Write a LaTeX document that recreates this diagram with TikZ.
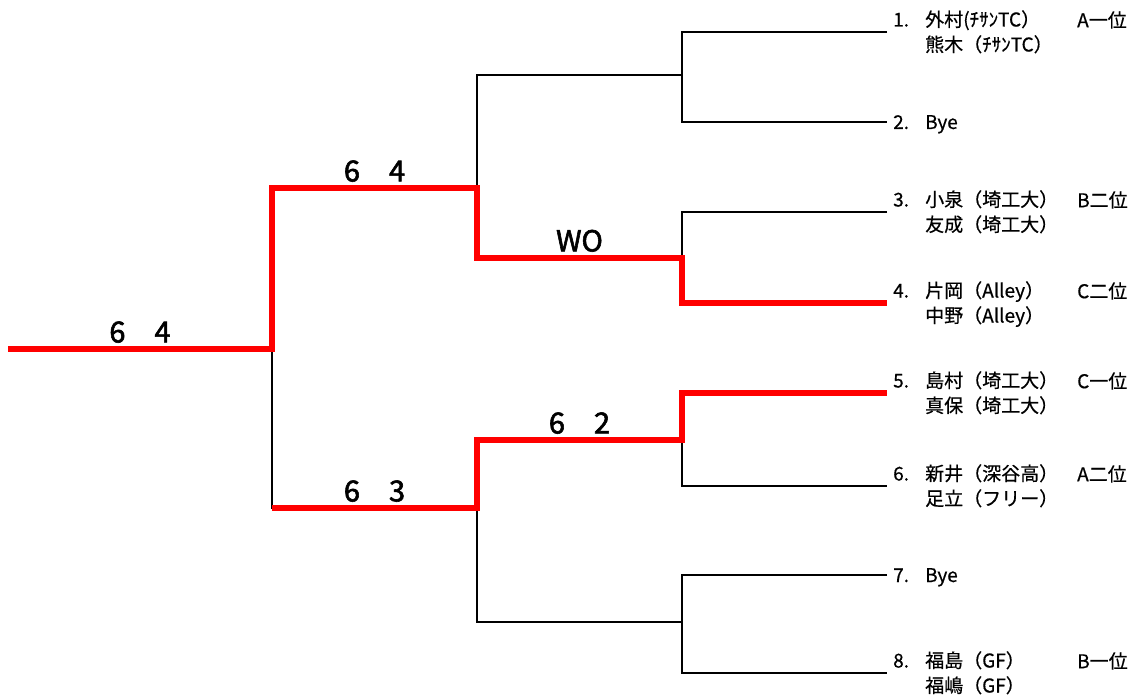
\documentclass[tikz,border=0pt]{standalone}
\usepackage{fontspec}
\setmainfont{Noto Sans CJK JP}[FakeBold=0.5]
\newfontfamily\scorefont{Noto Sans CJK JP}[FakeBold=2]
\usepackage{tikz}
\usetikzlibrary{positioning, calc}

\begin{document}
\begin{tikzpicture}[
    x=1pt, y=-1pt,
    % bracket lines
    wire/.style={draw, line width=1.3pt},
    win/.style={draw, red, line width=6pt, line join=miter},
    entry/.style={
        anchor=west,
        inner sep=0pt,
        xshift=6pt,
        yshift=-2pt,
        font=\fontsize{19}{25}\selectfont
    },
    rank/.style={anchor=west, inner sep=0pt, font=\fontsize{19}{25}\selectfont},
    score/.style={above=6pt, inner sep=0pt, font=\scorefont\fontsize{29}{32}\selectfont}
]
    \useasboundingbox (0,0) rectangle (1142,698);

    % leaf ends
    \coordinate (e1) at (887,32);
    \coordinate (e2) at (887,122);
    \coordinate (e3) at (887,212);
    \coordinate (e4) at (887,303);
    \coordinate (e5) at (887,393);
    \coordinate (e6) at (887,486);
    \coordinate (e7) at (887,575);
    \coordinate (e8) at (887,673);
    % first round joints
    \coordinate (q1) at (682,75);
    \coordinate (q2) at (682,258);
    \coordinate (q3) at (682,440);
    \coordinate (q4) at (682,622);
    \coordinate (w1) at (477,75);
    \coordinate (w2) at (477,258);
    \coordinate (w3) at (477,440);
    \coordinate (w4) at (477,622);
    % semi final joints
    \coordinate (t1) at (477,188);
    \coordinate (t2) at (477,508);
    \coordinate (s1) at (272,188);
    \coordinate (s2) at (272,508);
    % final
    \coordinate (f) at (272,349);
    \coordinate (start) at (8,349);

    % Players
    \node [entry] (p1) at (e1) {\begin{tabular}{@{}p{32pt}@{}l@{}}1. & 外村(ﾁｻﾝTC）\\ & 熊木（ﾁｻﾝTC）\end{tabular}};
    \node [entry] (p2) at (e2) {\begin{tabular}{@{}p{32pt}@{}l@{}}2. & Bye\end{tabular}};
    \node [entry] (p3) at (e3) {\begin{tabular}{@{}p{32pt}@{}l@{}}3. & 小泉（埼工大）\\ & 友成（埼工大）\end{tabular}};
    \node [entry] (p4) at (e4) {\begin{tabular}{@{}p{32pt}@{}l@{}}4. & 片岡（Alley）\\ & 中野（Alley）\end{tabular}};
    \node [entry] (p5) at (e5) {\begin{tabular}{@{}p{32pt}@{}l@{}}5. & 島村（埼工大）\\ & 真保（埼工大）\end{tabular}};
    \node [entry] (p6) at (e6) {\begin{tabular}{@{}p{32pt}@{}l@{}}6. & 新井（深谷高）\\ & 足立（フリー）\end{tabular}};
    \node [entry] (p7) at (e7) {\begin{tabular}{@{}p{32pt}@{}l@{}}7. & Bye\end{tabular}};
    \node [entry] (p8) at (e8) {\begin{tabular}{@{}p{32pt}@{}l@{}}8. & 福島（GF）\\ & 福嶋（GF）\end{tabular}};

    % Ranks
    \node [rank] (r1) at ($(e1)+(190,-12)$) {A一位};
    \node [rank] (r3) at ($(e3)+(190,-12)$) {B二位};
    \node [rank] (r4) at ($(e4)+(190,-12)$) {C二位};
    \node [rank] (r5) at ($(e5)+(190,-12)$) {C一位};
    \node [rank] (r6) at ($(e6)+(190,-12)$) {A二位};
    \node [rank] (r8) at ($(e8)+(190,-12)$) {B一位};

    % Bracket
    \draw [wire] (e1) -| (q1) |- (e2);
    \draw [wire] (e3) -| (q2) |- (e4);
    \draw [wire] (e5) -| (q3) |- (e6);
    \draw [wire] (e7) -| (q4) |- (e8);
    \draw [wire] (q1) -- (w1) -- (w2) -- (q2);
    \draw [wire] (q3) -- (w3) -- (w4) -- (q4);
    \draw [wire] (t1) -- (s1) -- (s2) -- (t2);
    \draw [wire] (start) -- (f);

    % Winners
    \draw [win] (start) -- (f) |- (t1) |- (q2) |- (e4);
    \draw [win] (s2) -- (t2) |- (q3) |- (e5);

    % Scores
    \node [score] (sc0) at ($(start)!0.5!(f)$) {6\quad 4};
    \node [score] (sc1) at ($(s1)!0.5!(t1)$) {6\quad 4};
    \node [score] (sc2) at ($(w2)!0.5!(q2)$) {WO};
    \node [score] (sc3) at ($(w3)!0.5!(q3)$) {6\quad 2};
    \node [score] (sc4) at ($(s2)!0.5!(t2)$) {6\quad 3};
\end{tikzpicture}
\end{document}
